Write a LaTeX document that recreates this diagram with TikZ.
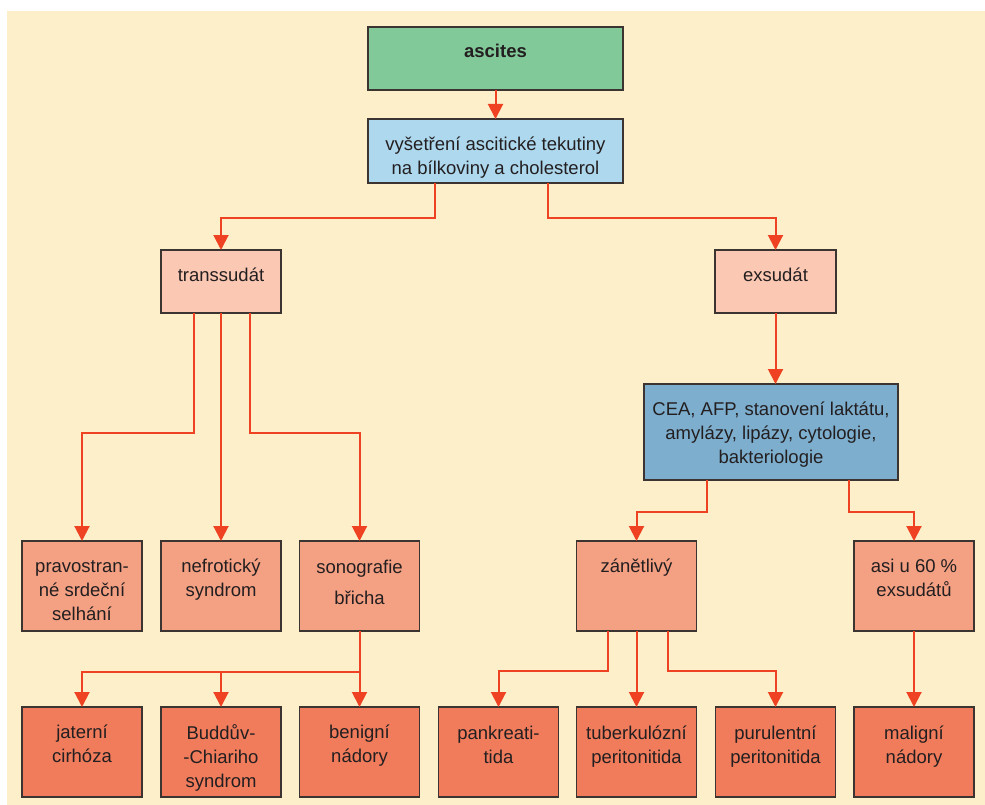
\documentclass[tikz,border=0pt]{standalone}
\usepackage{fontspec}
\setmainfont{Liberation Sans}
\usetikzlibrary{arrows.meta}
\definecolor{bgc}{HTML}{FDEFC9}
\definecolor{greenc}{HTML}{82C99A}
\definecolor{lblue}{HTML}{AED8EE}
\definecolor{dblue}{HTML}{7DAECE}
\definecolor{pale}{HTML}{FBC8B3}
\definecolor{midc}{HTML}{F4A083}
\definecolor{darkc}{HTML}{F07C5C}
\definecolor{arrc}{HTML}{EE4222}
\definecolor{edgec}{HTML}{3C3431}
\definecolor{textc}{HTML}{231F20}
\newcommand\mystrut{\rule[-5.5pt]{0pt}{23pt}}
\begin{document}
\begin{tikzpicture}[x=1pt,y=-1pt,
  box/.style={draw=edgec, line width=1.1pt, inner sep=0pt, outer sep=0pt},
  small/.style={box, minimum width=120pt, minimum height=90pt},
  txt/.style={align=center, inner sep=0pt, text=textc, font=\fontsize{18.5}{24}\selectfont},
  line/.style={draw=arrc, line width=2pt},
  arr/.style={line, -{Triangle[width=15pt,length=15pt]}}]
\useasboundingbox (0,0) rectangle (985,805);
\fill[bgc] (7,11) rectangle (985,805);
% boxes
\node[box, fill=greenc, minimum width=255pt, minimum height=63pt] (asc) at (495.5,58.5) {};
\node[box, fill=lblue, minimum width=255pt, minimum height=64pt] (vys) at (495.5,151) {};
\node[box, fill=pale, minimum width=120pt, minimum height=63pt] (tr) at (221,281.5) {};
\node[box, fill=pale, minimum width=121pt, minimum height=63pt] (ex) at (775.5,281.5) {};
\node[box, fill=dblue, minimum width=254pt, minimum height=96pt] (cea) at (771,432) {};
\node[small, fill=midc] (pr) at (82,586) {};
\node[small, fill=midc] (ne) at (221,586) {};
\node[small, fill=midc] (so) at (359.5,586) {};
\node[small, fill=midc] (zan) at (636.5,586) {};
\node[small, fill=midc] (asi) at (914,586) {};
\node[small, fill=darkc] (ja) at (82,752) {};
\node[small, fill=darkc] (bu) at (221,752) {};
\node[small, fill=darkc] (be) at (359.5,752) {};
\node[small, fill=darkc] (pa) at (498.5,752) {};
\node[small, fill=darkc] (tu) at (636.5,752) {};
\node[small, fill=darkc] (pu) at (775.5,752) {};
\node[small, fill=darkc] (ma) at (914,752) {};
% texts
\node[txt, font=\fontsize{18.5}{24}\selectfont\bfseries] (tasc) at (495.5,52) {\mystrut ascites};
\node[txt] (tvys) at (495.5,156.5) {\mystrut vyšetření ascitické tekutiny\\\mystrut na bílkoviny a cholesterol};
\node[txt] (ttr) at (221,275) {\mystrut transsudát};
\node[txt] (tex) at (775.5,275) {\mystrut exsudát};
\node[txt] (tcea) at (771,433.5) {\mystrut CEA, AFP, stanovení laktátu,\\\mystrut amylázy, lipázy, cytologie,\\\mystrut bakteriologie};
\node[txt] (tpr) at (82,590) {\mystrut pravostran-\\\mystrut né srdeční\\\mystrut selhání};
\node[txt] (tne) at (221,578.5) {\mystrut nefrotický\\\mystrut syndrom};
\node[txt] (tso) at (359.5,582.5) {\mystrut sonografie\\[7pt]\mystrut břicha};
\node[txt] (tzan) at (636.5,566) {\mystrut zánětlivý};
\node[txt] (tasi) at (914,578) {\mystrut asi u 60 \%\\\mystrut exsudátů};
\node[txt] (tja) at (82,744.5) {\mystrut jaterní\\\mystrut cirhóza};
\node[txt] (tbu) at (221,757) {\mystrut Buddův-\\\mystrut -Chiariho\\\mystrut syndrom};
\node[txt] (tbe) at (359.5,744.5) {\mystrut benigní\\\mystrut nádory};
\node[txt] (tpa) at (498.5,745) {\mystrut pankreati-\\\mystrut tida};
\node[txt] (ttu) at (636.5,745) {\mystrut tuberkulózní\\\mystrut peritonitida};
\node[txt] (tpu) at (775.5,745) {\mystrut purulentní\\\mystrut peritonitida};
\node[txt] (tma) at (914,745) {\mystrut maligní\\\mystrut nádory};
% connectors
\draw[arr] (asc.south) -- (vys.north);
\draw[arr] ([xshift=-60.5pt]vys.south) -- ++(0,35) -| (tr.north);
\draw[arr] ([xshift=52.5pt]vys.south) -- ++(0,35) -| (ex.north);
\draw[arr] (ex.south) -- (ex.south |- cea.north);
\draw[arr] ([xshift=-64pt]cea.south) -- ++(0,32) -| (zan.north);
\draw[arr] ([xshift=78pt]cea.south) -- ++(0,32) -| (asi.north);
\draw[arr] ([xshift=-27pt]tr.south) -- ++(0,120) -| (pr.north);
\draw[arr] (tr.south) -- (ne.north);
\draw[arr] ([xshift=29pt]tr.south) -- ++(0,120) -| (so.north);
\draw[line] (so.south) -- ++(0,41) coordinate (sj);
\draw[arr] (sj) -| (ja.north);
\draw[arr] (sj -| bu.north) -- (bu.north);
\draw[arr] (sj) -- (be.north);
\draw[arr] ([xshift=-28.5pt]zan.south) -- ++(0,40) -| (pa.north);
\draw[arr] (zan.south) -- (tu.north);
\draw[arr] ([xshift=31.5pt]zan.south) -- ++(0,40) -| (pu.north);
\draw[arr] (asi.south) -- (ma.north);
\end{tikzpicture}
\end{document}
